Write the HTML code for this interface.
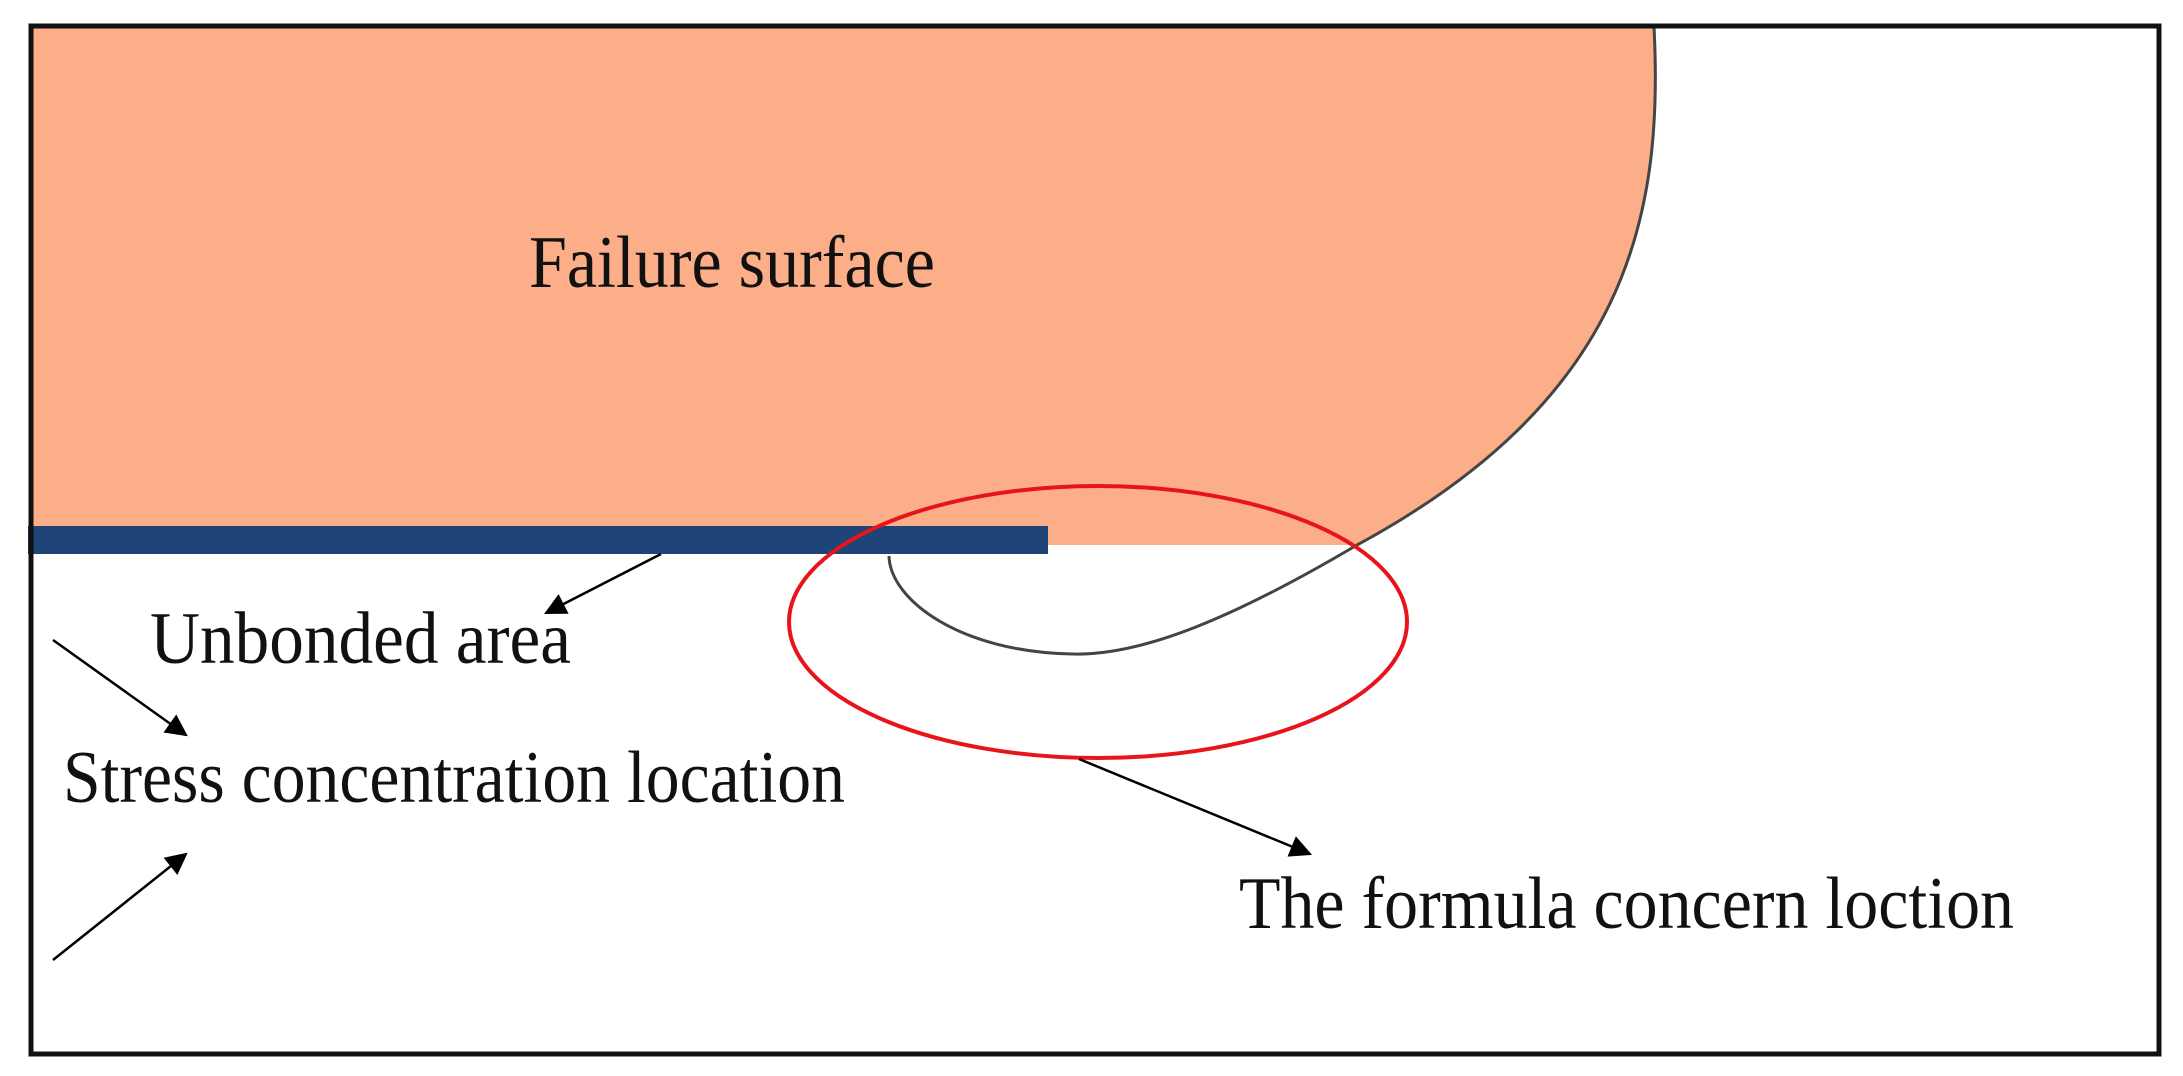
<!DOCTYPE html>
<html><head><meta charset="utf-8"><style>html,body{margin:0;padding:0;background:#fff}svg{display:block}</style></head>
<body>
<svg width="2183" height="1076" viewBox="0 0 2183 1076" xmlns="http://www.w3.org/2000/svg">
<defs>
<marker id="b" viewBox="0 0 10 10" refX="9" refY="5" markerWidth="28" markerHeight="22" orient="auto" markerUnits="userSpaceOnUse"><path d="M0,0 L10,5 L0,10 z" fill="#000"/></marker></defs>
<rect x="0" y="0" width="2183" height="1076" fill="#fff"/>
<path d="M31,27 L1654,27 C1664,220 1625,400 1357,545 L31,545 Z" fill="#fcae88"/>
<path d="M1654,27 C1664,220 1625,400 1357,545 C1230,620 1140,656 1072,654 C960,652 890,600 889,556" fill="none" stroke="#444" stroke-width="3"/>
<rect x="28" y="526" width="1020" height="28" fill="#1f4477"/>
<ellipse cx="1098" cy="622" rx="309" ry="136" fill="none" stroke="#e8141c" stroke-width="4"/>
<rect x="31" y="26" width="2128" height="1028" fill="none" stroke="#111" stroke-width="5"/>
<g stroke="#000" stroke-width="2.5" fill="none">
<line x1="661" y1="554" x2="546" y2="613" marker-end="url(#b)"/>
<line x1="53" y1="640" x2="186" y2="735" marker-end="url(#b)"/>
<line x1="53" y1="960" x2="186" y2="854" marker-end="url(#b)"/>
<line x1="1079" y1="759" x2="1310" y2="854" marker-end="url(#b)"/>
</g>
<g font-family="Liberation Serif, serif" font-size="74" fill="#111">
<text x="529" y="287" textLength="406" lengthAdjust="spacingAndGlyphs">Failure surface</text>
<text x="150" y="663" textLength="421" lengthAdjust="spacingAndGlyphs">Unbonded area</text>
<text x="63" y="802" textLength="782" lengthAdjust="spacingAndGlyphs">Stress concentration location</text>
<text x="1239" y="928" textLength="775" lengthAdjust="spacingAndGlyphs">The formula concern loction</text>
</g>
</svg>
</body></html>
